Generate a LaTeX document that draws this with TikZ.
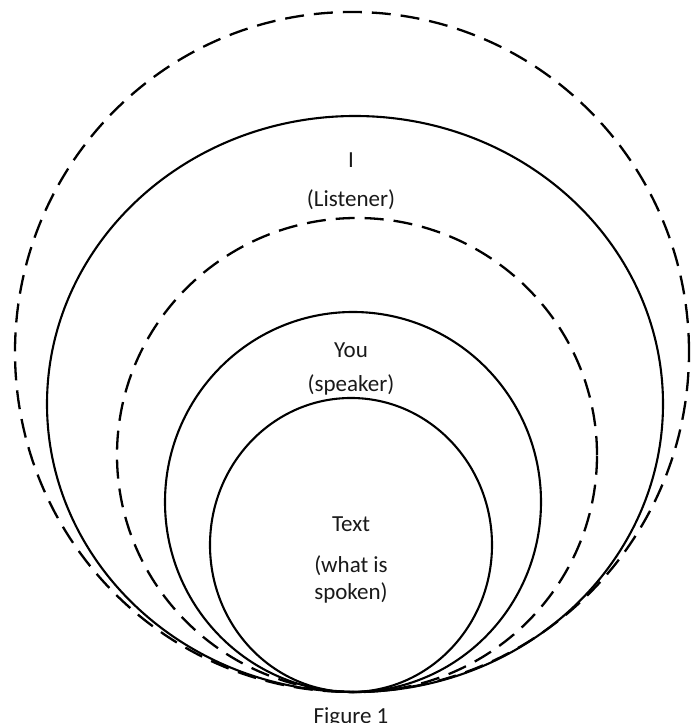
\documentclass[tikz,border=0pt]{standalone}
\usepackage{fontspec}
\setmainfont{Carlito}
\usetikzlibrary{positioning}

\begin{document}
\begin{tikzpicture}[x=1pt, y=1pt,
  solidring/.style={line width=2.1pt},
  dashring/.style={line width=2.3pt, dash pattern=on 19pt off 10pt},
  every node/.style={font=\fontsize{23}{27}\selectfont, text=black!90, inner sep=0pt}]

  \useasboundingbox (0,0) rectangle (691,723);

  % rings, all touching at the bottom
  \draw[dashring]  (352,371) ellipse [x radius=337, y radius=340];
  \draw[solidring] (355,319) ellipse [x radius=308, y radius=288];
  \draw[dashring]  (357,268) ellipse [x radius=240, y radius=237];
  \draw[solidring] (353,221) ellipse [x radius=188, y radius=190];
  \draw[solidring] (351,178) ellipse [x radius=141, y radius=147];

  % labels
  \node (listener)  at (351,563) {I};
  \node (listenerb) at (351,523) {(Listener)};
  \node (speaker)   at (351,373) {You};
  \node (speakerb)  at (351,338) {(speaker)};
  \node (text)      at (351,199) {Text};
  \node (textb)     at (351,157) {(what is};
  \node (textc)     at (351,130) {spoken)};

  % caption, cut by the page edge
  \node[anchor=north] (caption) at (351,16) {Figure 1};

\end{tikzpicture}
\end{document}
